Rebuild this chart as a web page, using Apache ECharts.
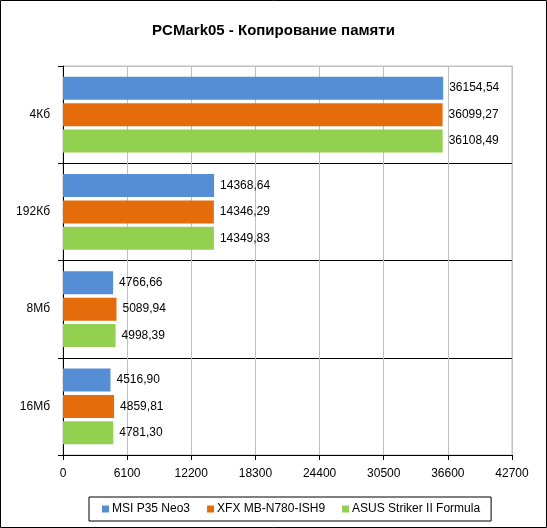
<!DOCTYPE html>
<html>
<head>
<meta charset="utf-8">
<script src="https://cdn.jsdelivr.net/npm/echarts@6/dist/echarts.min.js"></script>
<style>
  html, body { margin: 0; padding: 0; background: #fff; }
  #chart { width: 547px; height: 528px; }
</style>
</head>
<body>
<div id="chart"></div>
<script>
var categories = ['4Кб', '192Кб', '8Мб', '16Мб'];
var seriesNames = ['MSI P35 Neo3', 'XFX MB-N780-ISH9', 'ASUS Striker II Formula'];
var msi = [36154.54, 14368.64, 4766.66, 4516.90];
var xfx = [36099.27, 14346.29, 5089.94, 4859.81];
var asus = [36108.49, 14349.83, 4998.39, 4781.30];
var colors = ['#558ed5', '#e46c0a', '#92d050'];

var font = "'Liberation Sans', Arial, sans-serif";

function fmt(p) {
  return p.value.toFixed(2).replace('.', ',');
}

function makeSeries(name, data, i) {
  return {
    name: name,
    type: 'bar',
    data: data,
    barWidth: 23,
    barGap: '15%',
    itemStyle: { color: colors[i] },
    label: {
      show: true,
      position: 'right',
      distance: 6,
      formatter: fmt,
      color: '#000',
      fontSize: 12,
      fontFamily: font
    }
  };
}

var chart = echarts.init(document.getElementById('chart'));
chart.setOption({
  animation: false,
  backgroundColor: '#fff',
  textStyle: { fontFamily: font },
  title: {
    text: 'PCMark05 - Копирование памяти',
    left: 'center',
    top: 18,
    textStyle: { fontSize: 15, fontWeight: 'bold', color: '#000', fontFamily: font }
  },
  graphic: [{
    type: 'rect',
    shape: { x: 0.5, y: 0.5, width: 546, height: 527 },
    style: { fill: 'none', stroke: '#000', lineWidth: 1 },
    silent: true
  }],
  legend: {
    data: seriesNames,
    left: 89,
    top: 497,
    itemWidth: 7,
    itemHeight: 7,
    itemGap: 17,
    icon: 'rect',
    padding: [6, 11, 6, 13],
    borderColor: '#000',
    borderWidth: 1,
    textStyle: { fontSize: 12, color: '#000', fontFamily: font, padding: [0, 0, 0, -2] }
  },
  grid: {
    left: 63,
    right: 35,
    top: 66,
    bottom: 73,
    show: true,
    borderColor: '#bfbfbf',
    borderWidth: 1,
    containLabel: false
  },
  xAxis: {
    type: 'value',
    min: 0,
    max: 42700,
    interval: 6100,
    axisLine: { show: true, lineStyle: { color: '#000', width: 1 } },
    axisTick: { show: true, length: 5, lineStyle: { color: '#000' } },
    axisLabel: {
      color: '#000', fontSize: 12, margin: 13, fontFamily: font,
      formatter: function (v) { return String(v); }
    },
    splitLine: { show: true, lineStyle: { color: '#bfbfbf', width: 1 } }
  },
  yAxis: {
    type: 'category',
    data: categories,
    inverse: true,
    axisLine: { show: true, lineStyle: { color: '#000', width: 1 } },
    axisTick: { show: true, length: 5, lineStyle: { color: '#000' } },
    axisLabel: { color: '#000', fontSize: 12, margin: 13, fontFamily: font },
    splitLine: { show: true, lineStyle: { color: ['#bfbfbf', '#000', '#000', '#000', '#000'], width: 1 } }
  },
  series: [
    makeSeries(seriesNames[0], msi, 0),
    makeSeries(seriesNames[1], xfx, 1),
    makeSeries(seriesNames[2], asus, 2)
  ]
});
</script>
</body>
</html>
